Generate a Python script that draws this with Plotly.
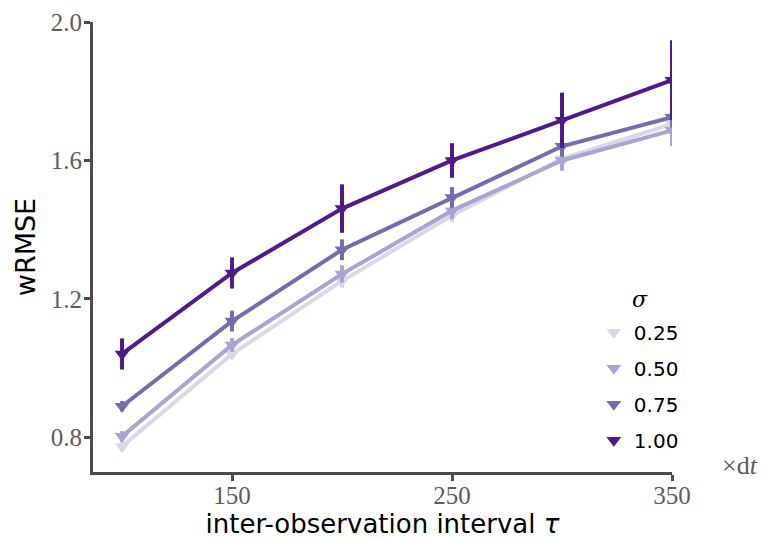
import plotly.graph_objects as go

tau = [100, 150, 200, 250, 300, 350]
sigmas = ["0.25", "0.50", "0.75", "1.00"]
colors = ["#d9d8ea", "#a9a5d1", "#756bb1", "#4f1a8c"]

wrmse = {
    "0.25": [0.774, 1.041, 1.252, 1.441, 1.605, 1.705],
    "0.50": [0.803, 1.067, 1.272, 1.455, 1.600, 1.687],
    "0.75": [0.890, 1.136, 1.342, 1.493, 1.641, 1.725],
    "1.00": [1.041, 1.275, 1.461, 1.600, 1.716, 1.832],
}
err = {
    "0.25": [0.015, 0.015, 0.02, 0.02, 0.025, 0.03],
    "0.50": [0.015, 0.02, 0.025, 0.025, 0.03, 0.045],
    "0.75": [0.015, 0.03, 0.03, 0.03, 0.03, 0.03],
    "1.00": [0.045, 0.045, 0.07, 0.05, 0.08, 0.115],
}

fig = go.Figure()
for s, c in zip(sigmas, colors):
    fig.add_trace(go.Scatter(
        x=tau, y=wrmse[s], mode="lines+markers",
        line=dict(color=c, width=4),
        marker=dict(symbol="triangle-down", size=13, color=c),
        error_y=dict(type="data", array=err[s], color=c, thickness=4, width=0),
        showlegend=False,
    ))
for s, c in zip(sigmas, colors):
    fig.add_trace(go.Scatter(
        x=[None], y=[None], mode="markers", name=s,
        marker=dict(symbol="triangle-down", size=13, color=c),
        legendgroup=s,
    ))

axis_col = "#4d4a4c"
tick_col = "#5c5c5c"
fig.update_layout(
    width=765, height=540,
    margin=dict(l=93, r=93, t=22, b=68),
    plot_bgcolor="white", paper_bgcolor="white",
    font=dict(family="DejaVu Sans", color="black"),
    showlegend=True,
    legend=dict(
        x=0.865, y=0.354, xanchor="left", yanchor="top",
        font=dict(family="DejaVu Sans", size=20),
        tracegroupgap=7, itemwidth=30,
        bgcolor="rgba(0,0,0,0)",
    ),
    xaxis=dict(
        range=[86.8, 350], tickvals=[150, 250, 350],
        showline=True, linecolor=axis_col, linewidth=3,
        ticks="outside", ticklen=6, tickwidth=3, tickcolor=axis_col,
        showgrid=False, zeroline=False, automargin=False,
        ticklabelstandoff=-7,
        tickfont=dict(family="Liberation Serif", size=25, color=tick_col),
        title=dict(text="inter-observation interval <i>τ</i>",
                   font=dict(family="DejaVu Sans", size=26), standoff=2),
    ),
    yaxis=dict(
        range=[0.7, 2.0], tickvals=[0.8, 1.2, 1.6, 2.0], ticktext=["0.8", "1.2", "1.6", "2.0"],
        showline=True, linecolor=axis_col, linewidth=3,
        ticks="outside", ticklen=6, tickwidth=3, tickcolor=axis_col,
        showgrid=False, zeroline=False, automargin=False,
        ticklabelstandoff=-3,
        tickfont=dict(family="Liberation Serif", size=25, color=tick_col),
        title=dict(text="wRMSE", font=dict(family="DejaVu Sans", size=27), standoff=8),
    ),
    annotations=[
        dict(
            text="×d<i>t</i>", xref="paper", yref="paper", x=1.083, y=0.015,
            xanchor="left", yanchor="middle", showarrow=False,
            font=dict(family="Liberation Serif", size=26, color=tick_col),
        ),
        dict(
            text="<i>σ</i>", xref="paper", yref="paper", x=0.945, y=0.383,
            xanchor="center", yanchor="middle", showarrow=False,
            font=dict(family="DejaVu Serif", size=22, color="black"),
        ),
    ],
)

fig.write_html("out.html")
